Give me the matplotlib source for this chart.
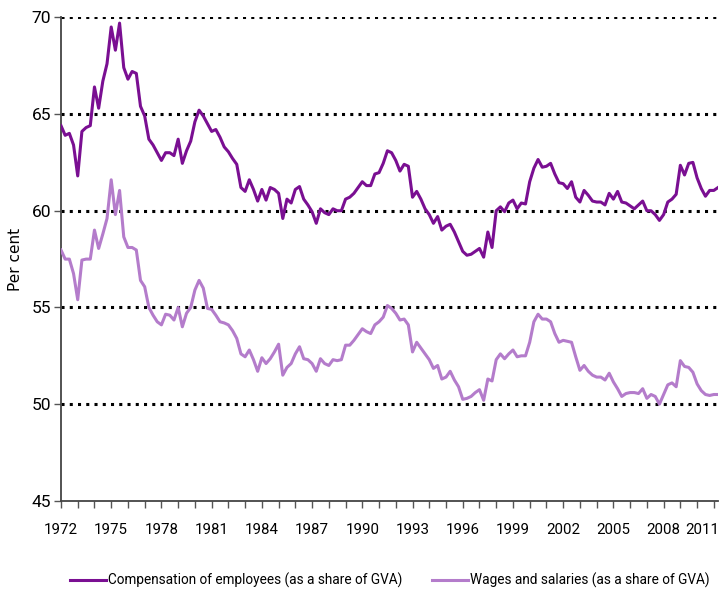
import matplotlib
matplotlib.use("Agg")
import matplotlib.pyplot as plt
from matplotlib.transforms import ScaledTranslation, blended_transform_factory
import numpy as np

# quarterly shares, 1972Q1 - 2011Q2 (per cent of GVA)
compensation = [
    64.4, 63.9, 64.0, 63.4,    # 1972
    61.8, 64.1, 64.3, 64.4,    # 1973
    66.4, 65.3, 66.7, 67.6,    # 1974
    69.5, 68.3, 69.7, 67.4,    # 1975
    66.8, 67.2, 67.1, 65.4,    # 1976
    64.9, 63.7, 63.4, 63.0,    # 1977
    62.6, 63.0, 63.0, 62.85,   # 1978
    63.7, 62.45, 63.1, 63.6,   # 1979
    64.6, 65.2, 64.9, 64.5,    # 1980
    64.1, 64.2, 63.8, 63.3,    # 1981
    63.05, 62.7, 62.4, 61.2,   # 1982
    61.0, 61.6, 61.1, 60.5,    # 1983
    61.1, 60.55, 61.2, 61.1,   # 1984
    60.9, 59.6, 60.6, 60.4,    # 1985
    61.1, 61.25, 60.6, 60.3,   # 1986
    59.95, 59.35, 60.1, 59.9,  # 1987
    59.8, 60.1, 60.0, 60.0,    # 1988
    60.6, 60.7, 60.9, 61.2,    # 1989
    61.5, 61.3, 61.3, 61.9,    # 1990
    61.97, 62.45, 63.1, 63.0,  # 1991
    62.6, 62.05, 62.4, 62.3,   # 1992
    60.7, 61.0, 60.6, 60.1,    # 1993
    59.8, 59.35, 59.7, 59.0,   # 1994
    59.2, 59.3, 58.9, 58.4,    # 1995
    57.9, 57.7, 57.75, 57.9,   # 1996
    58.05, 57.6, 58.9, 58.1,   # 1997
    60.0, 60.2, 59.95, 60.4,   # 1998
    60.55, 60.1, 60.4, 60.35,  # 1999
    61.5, 62.2, 62.65, 62.25,  # 2000
    62.3, 62.45, 61.9, 61.45,  # 2001
    61.4, 61.15, 61.5, 60.7,   # 2002
    60.45, 61.05, 60.8, 60.5,  # 2003
    60.45, 60.45, 60.3, 60.9,  # 2004
    60.6, 61.0, 60.45, 60.4,   # 2005
    60.25, 60.1, 60.3, 60.5,   # 2006
    60.0, 60.0, 59.8, 59.5,    # 2007
    59.8, 60.45, 60.6, 60.85,  # 2008
    62.35, 61.85, 62.45, 62.5, # 2009
    61.7, 61.15, 60.75, 61.05, # 2010
    61.05, 61.2,               # 2011
]

wages = [
    57.97, 57.5, 57.5, 56.75,  # 1972
    55.4, 57.45, 57.5, 57.5,   # 1973
    59.0, 58.05, 58.8, 59.6,   # 1974
    61.6, 59.8, 61.05, 58.65,  # 1975
    58.1, 58.1, 57.97, 56.4,   # 1976
    56.07, 55.0, 54.6, 54.26,  # 1977
    54.1, 54.65, 54.6, 54.35,  # 1978
    55.0, 54.0, 54.7, 55.0,    # 1979
    55.9, 56.4, 56.0, 54.95,   # 1980
    54.9, 54.6, 54.26, 54.2,   # 1981
    54.1, 53.8, 53.4, 52.6,    # 1982
    52.45, 52.8, 52.3, 51.7,   # 1983
    52.4, 52.1, 52.35, 52.7,   # 1984
    53.1, 51.5, 51.9, 52.1,    # 1985
    52.6, 52.97, 52.35, 52.3,  # 1986
    52.1, 51.7, 52.35, 52.1,   # 1987
    52.0, 52.3, 52.25, 52.3,   # 1988
    53.05, 53.05, 53.3, 53.6,  # 1989
    53.9, 53.75, 53.65, 54.1,  # 1990
    54.26, 54.5, 55.1, 54.95,  # 1991
    54.7, 54.35, 54.4, 54.1,   # 1992
    52.7, 53.2, 52.9, 52.6,    # 1993
    52.3, 51.85, 52.0, 51.3,   # 1994
    51.4, 51.7, 51.25, 50.9,   # 1995
    50.25, 50.3, 50.4, 50.6,   # 1996
    50.75, 50.2, 51.3, 51.2,   # 1997
    52.3, 52.6, 52.35, 52.6,   # 1998
    52.8, 52.45, 52.5, 52.5,   # 1999
    53.2, 54.26, 54.65, 54.4,  # 2000
    54.4, 54.26, 53.65, 53.2,  # 2001
    53.3, 53.25, 53.2, 52.45,  # 2002
    51.75, 52.0, 51.7, 51.5,   # 2003
    51.4, 51.4, 51.25, 51.6,   # 2004
    51.15, 50.8, 50.4, 50.55,  # 2005
    50.6, 50.6, 50.55, 50.8,   # 2006
    50.3, 50.5, 50.4, 50.0,    # 2007
    50.5, 51.0, 51.1, 50.9,    # 2008
    52.25, 51.95, 51.9, 51.65, # 2009
    51.05, 50.7, 50.5, 50.45,  # 2010
    50.5, 50.5,                # 2011
]

years = list(range(1972, 2012))
year_labels = [str(y) for y in range(1972, 2012, 3)]
y_ticks = [45, 50, 55, 60, 65, 70]

narrow = ["Roboto", "DejaVu Sans"]
dark = "#7a0f92"
light = "#b47ccb"

fig = plt.figure(figsize=(7.26, 5.97), dpi=100)
ax = fig.add_axes([0.084, 0.161, 0.905, 0.81])

x = np.arange(len(compensation))
for v in y_ticks[1:]:
    ax.axhline(v, color="black", lw=2.2, ls=(0, (1, 1.7)), zorder=1)

ax.plot(x, compensation, color=dark, lw=2.2, zorder=3,
        label="Compensation of employees (as a share of GVA)")
ax.plot(x, wages, color=light, lw=2.2, zorder=3,
        label="Wages and salaries (as a share of GVA)")

ax.set_xlim(0, len(compensation) - 1)
ax.set_ylim(45, 70)
ax.set_yticks(y_ticks)
ax.set_yticklabels([str(v) for v in y_ticks], family=narrow, fontsize=12.5)

year_pos = [(y - 1972) * 4 for y in years]
ax.set_xticks(year_pos)
# last label is drawn separately, nudged left so it stays inside the figure
ax.set_xticklabels([str(y) if str(y) in year_labels[:-1] else "" for y in years],
                   family=narrow, fontsize=10.8)
ax.tick_params(axis="x", length=5, width=1, color="#555555", pad=11)
ax.tick_params(axis="y", length=5, width=1, color="#555555", pad=2)

tr = blended_transform_factory(ax.transData, ax.transAxes) + \
    ScaledTranslation(-0.12, -16 / 72, fig.dpi_scale_trans)
ax.text(year_pos[-1], 0, year_labels[-1], transform=tr, ha="center", va="top",
        family=narrow, fontsize=10.8)

for s in ["top", "right"]:
    ax.spines[s].set_visible(False)
for s in ["left", "bottom"]:
    ax.spines[s].set_color("#444444")
    ax.spines[s].set_linewidth(1.3)

ax.set_ylabel("Per cent", fontsize=11, labelpad=6)

fig.legend(loc="center", bbox_to_anchor=(0.537, 0.028), ncol=2, frameon=False,
           prop={"family": narrow, "size": 9.8}, handlelength=2.6,
           handletextpad=0.15, columnspacing=2.2)

fig.savefig("out.png", dpi=100)
